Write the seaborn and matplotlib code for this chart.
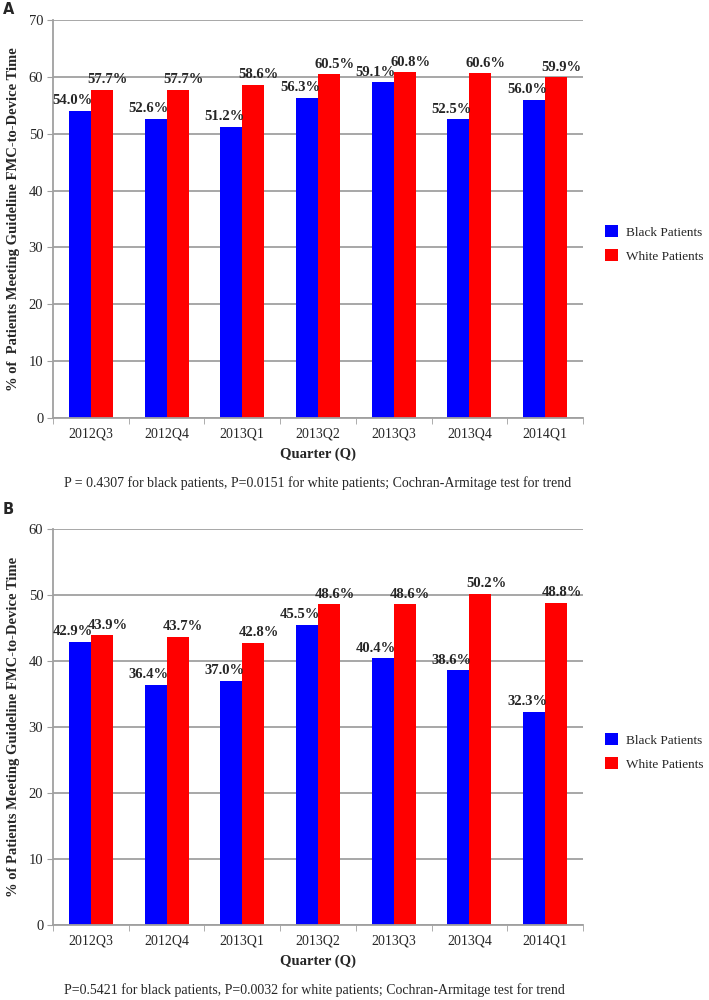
import matplotlib
matplotlib.use("Agg")
import matplotlib.pyplot as plt
import seaborn as sns
import pandas as pd
import numpy as np

quarters = ["2012Q3", "2012Q4", "2013Q1", "2013Q2", "2013Q3", "2013Q4", "2014Q1"]
black_a = [54.0, 52.6, 51.2, 56.3, 59.1, 52.5, 56.0]
white_a = [57.7, 57.7, 58.6, 60.5, 60.8, 60.6, 59.9]
black_b = [42.9, 36.4, 37.0, 45.5, 40.4, 38.6, 32.3]
white_b = [43.9, 43.7, 42.8, 48.6, 48.6, 50.2, 48.8]
series = ["Black Patients", "White Patients"]
colors = ["#0000FF", "#FF0000"]

sns.set_style("white")
plt.rcParams['font.family'] = ['Liberation Serif', 'DejaVu Serif']

W, H = 709, 1000
fig = plt.figure(figsize=(W / 100, H / 100), dpi=100)
GRID = "#a0a0a0"


def panel(top_px, bottom_px, black, white, ymax, ylabel, caption, cap_y, letter, letter_y, legend_y):
    left_px, right_px = 53, 583
    ax = fig.add_axes([left_px / W, 1 - bottom_px / H, (right_px - left_px) / W, (bottom_px - top_px) / H])
    df = pd.DataFrame({
        "Quarter": quarters * 2,
        "Value": list(black) + list(white),
        "Group": [series[0]] * len(quarters) + [series[1]] * len(quarters),
    })
    sns.barplot(data=df, x="Quarter", y="Value", hue="Group", palette=colors,
                width=0.58, ax=ax, saturation=1, legend=True, linewidth=0)
    ax.set_ylim(0, ymax)
    ax.set_xlim(-0.5, len(quarters) - 0.5)
    ax.set_yticks(np.arange(0, ymax + 1, 10))
    ax.yaxis.grid(True, color=GRID, linewidth=1.3)
    ax.set_axisbelow(True)
    for s in ["top", "right"]:
        ax.spines[s].set_visible(False)
    for s in ["left", "bottom"]:
        ax.spines[s].set_color(GRID)
        ax.spines[s].set_linewidth(1.3)
    ax.tick_params(axis="y", which="major", length=4, color=GRID, labelsize=10.5, left=True, pad=3)
    ax.tick_params(axis="x", which="major", length=0, labelsize=10, pad=7)
    ax.set_xticks(np.arange(-0.5, len(quarters), 1), minor=True)
    ax.tick_params(axis="x", which="minor", length=4, color=GRID, bottom=True)
    ax.set_xlabel("Quarter (Q)", fontweight="bold", fontsize=10.5, labelpad=5)
    ax.set_ylabel(ylabel, fontweight="bold", fontsize=10.5, labelpad=6)
    for ci, cont in enumerate(ax.containers):
        for bar, v in zip(cont, black if ci == 0 else white):
            dx = -5 if ci == 0 else 4
            ax.annotate(f"{v:.1f}%", (bar.get_x() + bar.get_width() / 2, bar.get_height()),
                        xytext=(dx, 2.5), textcoords="offset points", ha="center", va="bottom",
                        fontweight="bold", fontsize=10.5)
    ax.legend(loc="center left", bbox_to_anchor=(605 / W, 1 - legend_y / H),
              bbox_transform=fig.transFigure, frameon=False,
              fontsize=9.5, handlelength=1.0, handleheight=1.0, handletextpad=0.6,
              labelspacing=0.8, borderaxespad=0, borderpad=0)
    fig.text(64 / W, 1 - cap_y / H, caption, fontsize=10, ha="left", va="center")
    fig.text(3 / W, 1 - letter_y / H, letter, fontsize=10.5, fontweight="bold", family="DejaVu Sans",
             ha="left", va="center")
    return ax


panel(20, 418, black_a, white_a, 70,
      "% of  Patients Meeting Guideline FMC-to-Device Time",
      "P = 0.4307 for black patients, P=0.0151 for white patients; Cochran-Armitage test for trend",
      483, "A", 9, 244)
panel(529, 925, black_b, white_b, 60,
      "% of Patients Meeting Guideline FMC-to-Device Time",
      "P=0.5421 for black patients, P=0.0032 for white patients; Cochran-Armitage test for trend",
      990, "B", 510, 752)

fig.savefig("out.png", dpi=100)
